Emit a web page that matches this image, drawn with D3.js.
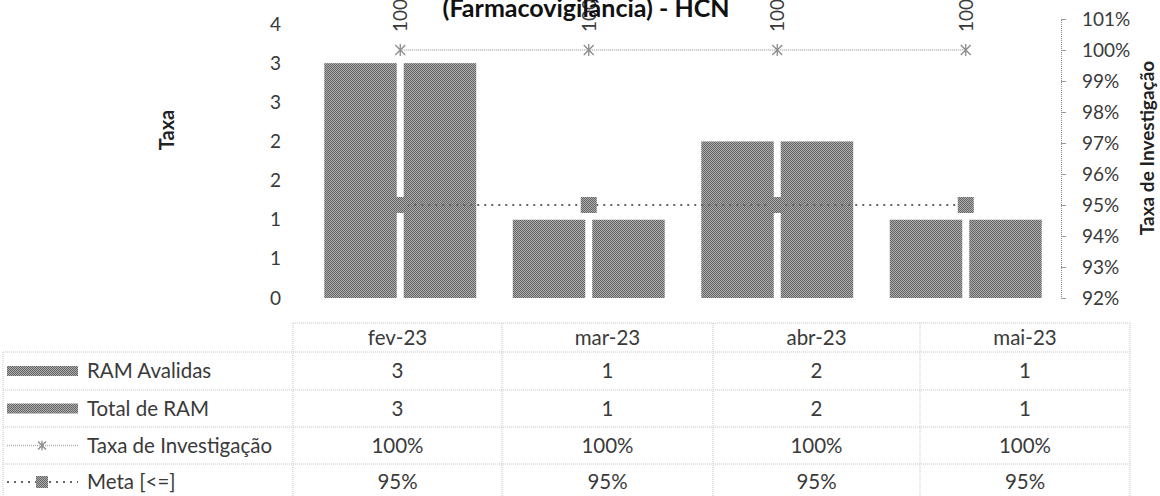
<!DOCTYPE html>
<html><head><meta charset="utf-8">
<script src="https://cdn.jsdelivr.net/npm/d3@7"></script>
<style>
html,body{margin:0;padding:0;background:#fff;}
svg{display:block;font-family:Lato,"Open Sans",sans-serif;}
</style></head>
<body>
<svg id="chart" width="1160" height="496"></svg>
<script>
// ---- data ----
const categories = ["fev-23", "mar-23", "abr-23", "mai-23"];
const ramAvalidas = [3, 1, 2, 1];
const totalRAM = [3, 1, 2, 1];
const taxaInvestigacao = [1.00, 1.00, 1.00, 1.00];
const meta = [0.95, 0.95, 0.95, 0.95];
const barSeries = ["RAM Avalidas", "Total de RAM"];
const leftTicks = [0, 0.5, 1, 1.5, 2, 2.5, 3, 3.5];
const rightTicks = [0.92, 0.93, 0.94, 0.95, 0.96, 0.97, 0.98, 0.99, 1.00, 1.01];
const tableRows = ["RAM Avalidas", "Total de RAM", "Taxa de Investigação", "Meta [<=]"];
const titleText = "(Farmacovigilância) - HCN";

const svg = d3.select("#chart");
const defs = svg.append("defs");
const pat = defs.append("pattern").attr("id", "chk").attr("width", 2).attr("height", 2)
  .attr("patternUnits", "userSpaceOnUse");
pat.append("rect").attr("width", 2).attr("height", 2).attr("fill", "#adadad");
pat.append("rect").attr("width", 1).attr("height", 1).attr("fill", "#646464");
pat.append("rect").attr("x", 1).attr("y", 1).attr("width", 1).attr("height", 1).attr("fill", "#646464");

const textCol = "#3a3a3a";
const x = d3.scaleBand().domain(categories).range([306, 1060]);
const x1 = d3.scaleBand().domain(barSeries).range([0, x.bandwidth()]).paddingInner(0.088).paddingOuter(0.23);
const yL = d3.scaleLinear().domain([0, 3.5]).range([298, 24]);
const yR = d3.scaleLinear().domain([0.92, 1.01]).range([298, 19]);

// left axis (no line)
const gL = svg.append("g").attr("transform", "translate(287,0)")
  .call(d3.axisLeft(yL).tickValues(leftTicks).tickSize(0).tickPadding(6).tickFormat(d => String(Math.round(d))));
gL.select(".domain").remove();
gL.selectAll("text").attr("font-size", 19).attr("fill", textCol).attr("font-family", "Lato");

// right axis
const gR = svg.append("g").attr("transform", "translate(1061,0)")
  .call(d3.axisRight(yR).tickValues(rightTicks).tickSize(5).tickPadding(16).tickFormat(d3.format(".0%")));
gR.select(".domain").attr("stroke", "#888").attr("stroke-dasharray", "1,1");
gR.selectAll(".tick line").attr("stroke", "#999");
gR.selectAll("text").attr("font-size", 19).attr("fill", textCol).attr("font-family", "Lato");

// axis titles
svg.append("text").attr("transform", "translate(174,130) rotate(-90)").attr("text-anchor", "middle")
  .attr("font-size", 20).attr("font-weight", "bold").attr("fill", "#222").text("Taxa");
svg.append("text").attr("transform", "translate(1154,148) rotate(-90)").attr("text-anchor", "middle")
  .attr("font-size", 19).attr("font-weight", "bold").attr("fill", "#222").text("Taxa de Investigação");

// bars
const barData = categories.map((c, i) => [
  {cat: c, s: barSeries[0], v: ramAvalidas[i]},
  {cat: c, s: barSeries[1], v: totalRAM[i]}
]).flat();
svg.append("g").selectAll("rect").data(barData).join("rect")
  .attr("x", d => x(d.cat) + x1(d.s))
  .attr("y", d => yL(d.v))
  .attr("width", x1.bandwidth())
  .attr("height", d => yL(0) - yL(d.v))
  .attr("fill", "url(#chk)");

const cx = c => x(c) + x.bandwidth() / 2;

// Meta line
const metaLine = d3.line().x((d, i) => cx(categories[i])).y(d => yR(d));
svg.append("path").datum(meta).attr("d", metaLine).attr("fill", "none")
  .attr("stroke", "#666").attr("stroke-width", 2).attr("stroke-dasharray", "2,5");
svg.append("g").selectAll("rect").data(meta).join("rect")
  .attr("x", (d, i) => cx(categories[i]) - 8).attr("y", d => yR(d) - 8)
  .attr("width", 16).attr("height", 16).attr("fill", "url(#chk)");

// Taxa line
const taxaLine = d3.line().x((d, i) => cx(categories[i])).y(d => yR(d));
svg.append("path").datum(taxaInvestigacao).attr("d", taxaLine).attr("fill", "none")
  .attr("stroke", "#b0b0b0").attr("stroke-width", 1.5).attr("stroke-dasharray", "1,1");
function star(g, px, py, r) {
  g.append("path").attr("d", `M${px - r},${py - r}L${px + r},${py + r}M${px - r},${py + r}L${px + r},${py - r}M${px},${py - r * 1.2}L${px},${py + r * 1.2}`)
    .attr("stroke", "#8c8c8c").attr("stroke-width", 1.3).attr("fill", "none");
}
const gStar = svg.append("g");
taxaInvestigacao.forEach((d, i) => star(gStar, cx(categories[i]), yR(d), 5));

// data labels (rotated)
svg.append("g").selectAll("text").data(taxaInvestigacao).join("text")
  .attr("transform", (d, i) => `translate(${cx(categories[i]) + 7},${yR(d) - 18}) rotate(-90)`)
  .attr("font-size", 19).attr("fill", textCol).text(d => d3.format(".0%")(d));

// title
svg.append("text").attr("x", 586).attr("y", 17).attr("text-anchor", "middle")
  .attr("font-size", 25).attr("font-weight", "bold").attr("fill", "#111").text(titleText);

// data table
const colEdges = [293, 502, 713, 920, 1130];
const rowEdges = [323, 352, 390, 427, 464, 500];
const legL = 3;
const tg = svg.append("g");
const gridCol = "#c4c4c4";
const hl = (x0, x2, yy) => tg.append("line").attr("x1", x0).attr("x2", x2).attr("y1", yy).attr("y2", yy)
  .attr("stroke", gridCol).attr("stroke-dasharray", "1,1");
const vl = (xx, y0, y2) => tg.append("line").attr("x1", xx).attr("x2", xx).attr("y1", y0).attr("y2", y2)
  .attr("stroke", gridCol).attr("stroke-dasharray", "1,1");
hl(colEdges[0], colEdges[4], rowEdges[0]);
for (let r = 1; r < rowEdges.length; r++) hl(legL, colEdges[4], rowEdges[r]);
colEdges.forEach(c => vl(c, rowEdges[0], rowEdges[5]));
vl(legL, rowEdges[1], rowEdges[5]);

const fs = 20.5;
const rowMid = r => (rowEdges[r] + rowEdges[r + 1]) / 2;
const colMid = c => (colEdges[c] + colEdges[c + 1]) / 2;
categories.forEach((c, i) => tg.append("text").attr("x", colMid(i)).attr("y", rowMid(0)).attr("dy", "0.35em")
  .attr("text-anchor", "middle").attr("font-size", fs).attr("fill", textCol).text(c));
const rowVals = [ramAvalidas.map(String), totalRAM.map(String),
  taxaInvestigacao.map(d3.format(".0%")), meta.map(d3.format(".0%"))];
rowVals.forEach((vals, r) => vals.forEach((v, i) => tg.append("text").attr("x", colMid(i)).attr("y", rowMid(r + 1))
  .attr("dy", "0.35em").attr("text-anchor", "middle").attr("font-size", fs).attr("fill", textCol).text(v)));
tableRows.forEach((name, r) => tg.append("text").attr("x", 87).attr("y", rowMid(r + 1)).attr("dy", "0.35em")
  .attr("font-size", fs).attr("fill", textCol).text(name));

// legend keys
const ky = r => rowMid(r + 1);
tg.append("rect").attr("x", 7).attr("y", ky(0) - 5).attr("width", 71).attr("height", 10).attr("fill", "url(#chk)");
tg.append("rect").attr("x", 7).attr("y", ky(1) - 5).attr("width", 71).attr("height", 10).attr("fill", "url(#chk)");
tg.append("line").attr("x1", 7).attr("x2", 78).attr("y1", ky(2)).attr("y2", ky(2))
  .attr("stroke", "#b0b0b0").attr("stroke-width", 1.5).attr("stroke-dasharray", "1,1");
star(tg, 42, ky(2), 4);
tg.append("line").attr("x1", 7).attr("x2", 78).attr("y1", ky(3)).attr("y2", ky(3))
  .attr("stroke", "#666").attr("stroke-width", 2).attr("stroke-dasharray", "2,5");
tg.append("rect").attr("x", 36).attr("y", ky(3) - 6).attr("width", 12).attr("height", 12).attr("fill", "url(#chk)");
</script>
</body></html>
